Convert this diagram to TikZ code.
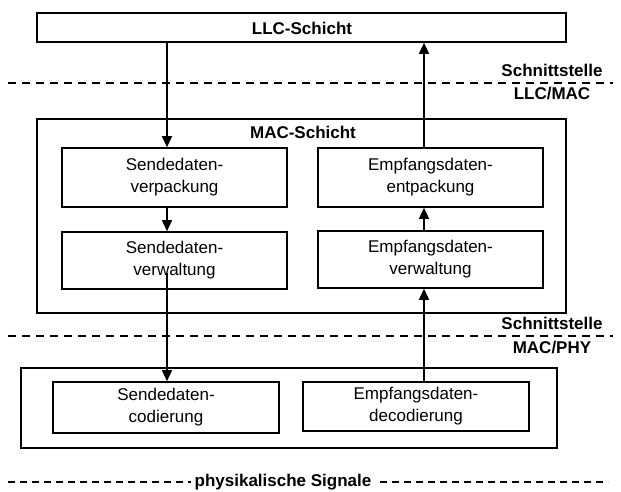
\documentclass[tikz,border=0pt]{standalone}
\usepackage{fontspec}
\setmainfont{Liberation Sans}
\usetikzlibrary{arrows.meta}
\begin{document}
\begin{tikzpicture}[x=1pt,y=-1pt,
  every node/.style={font=\fontsize{17}{22}\selectfont, inner sep=0pt},
  layer/.style={draw, line width=1.6pt},
  unit/.style={draw, line width=1.6pt, align=center, minimum width=225pt},
  title/.style={font=\fontsize{17}{22}\selectfont\bfseries},
  border/.style={line width=1.4pt, dash pattern=on 8pt off 6pt},
  arr/.style={line width=1.4pt, -{Triangle[length=11pt,width=10pt]}}
]
\useasboundingbox (0,0) rectangle (621,492);

% layers
\node[layer, minimum width=529pt, minimum height=29pt] (llc) at (301.5,27.5) {};
\node[title] (llct) at (302,28) {LLC-Schicht};

\node[layer, minimum width=529pt, minimum height=194pt] (mac) at (301.5,216) {};
\node[title] (mact) at (303,132) {MAC-Schicht};

\node[layer, minimum width=536pt, minimum height=80pt] (phy) at (289,408) {};

% MAC units
\node[unit, minimum height=59pt] (verp) at (174.5,177.5) {Sendedaten-\\verpackung};
\node[unit, minimum height=59pt] (entp) at (430.5,177.5) {Empfangsdaten-\\entpackung};
\node[unit, minimum height=57pt] (sverw) at (174.5,260.5) {Sendedaten-\\verwaltung};
\node[unit, minimum height=57pt] (everw) at (430.5,259.5) {Empfangsdaten-\\verwaltung};

% PHY units
\node[unit, minimum width=226pt, minimum height=51pt] (cod) at (166,407.5) {Sendedaten-\\codierung};
\node[unit, minimum width=226pt, minimum height=49pt] (dec) at (416,406.5) {Empfangsdaten-\\decodierung};

% interface lines
\coordinate (b1l) at (8,83);
\coordinate (b1r) at (613,83);
\draw[border] (b1l) -- (b1r);
\node[title] (s1) at (552,70) {Schnittstelle};
\node[title] (s1b) at (552,94) {LLC/MAC};

\coordinate (b2l) at (8,336);
\coordinate (b2r) at (613,336);
\draw[border] (b2l) -- (b2r);
\node[title] (s2) at (552,323) {Schnittstelle};
\node[title] (s2b) at (552,348) {MAC/PHY};

\coordinate (b3l) at (8,482);
\coordinate (b3r) at (608,482);
\draw[line width=1.1pt, dash pattern=on 7pt off 5pt] (b3l) -- (b3r);
\node[title, fill=white, inner xsep=4pt, inner ysep=2pt] (sig) at (283,482) {physikalische Signale};

% data paths
\coordinate (xl) at (167,0);
\coordinate (xr) at (424,0);
\coordinate (tap) at (167,273);

\draw[arr] (llc.south -| xl) -- (verp.north -| xl);
\draw[arr] (verp.south -| xl) -- (sverw.north -| xl);
\draw[arr] (tap) -- (cod.north -| xl);

\draw[arr] (dec.north -| xr) -- (everw.south -| xr);
\draw[arr] (everw.north -| xr) -- (entp.south -| xr);
\draw[arr] (entp.north -| xr) -- (llc.south -| xr);
\end{tikzpicture}
\end{document}
